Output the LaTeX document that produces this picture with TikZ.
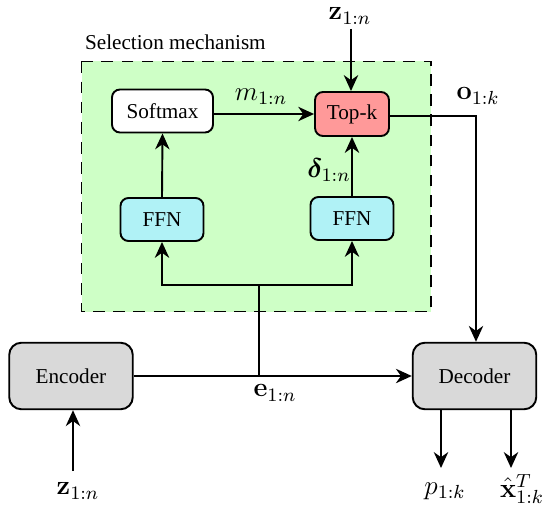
\RequirePackage{fix-cm}
\documentclass[tikz,border=0pt]{standalone}
\usepackage{bm}
\usepackage[no-math]{fontspec}
\setmainfont{Liberation Serif}
\usetikzlibrary{arrows.meta}
\definecolor{selgreen}{RGB}{206,255,198}
\definecolor{topred}{RGB}{255,153,153}
\definecolor{ffncyan}{RGB}{176,242,246}
\definecolor{codgray}{RGB}{217,217,217}
\begin{document}
\begin{tikzpicture}[x=0.472pt,y=-0.472pt,
  font=\fontsize{10}{12}\selectfont,
  line width=0.9pt,
  >={Stealth[length=7.5pt,width=6.8pt,inset=2.4pt]},
  smallbox/.style={draw,rounded corners=3.8pt,minimum height=20.3pt,inner sep=2pt},
  bigbox/.style={draw,fill=codgray,rounded corners=5.7pt,minimum width=58.3pt,minimum height=31.4pt},
  lbl/.style={inner sep=1pt,font=\fontsize{12.8}{15}\selectfont}]
\useasboundingbox (0,0) rectangle (545,512);
% selection mechanism area
\path[fill=selgreen,draw=black,dash pattern=on 5.5pt off 4pt] (81.5,61.5) rectangle (431,311.5);
\node[inner sep=1pt,anchor=west] (sellbl) at (82,42) {Selection mechanism};
% nodes
\node[smallbox,fill=white,minimum width=47.7pt] (soft) at (162.5,111) {Softmax};
\node[smallbox,fill=topred,minimum width=34.9pt,minimum height=20.8pt] (topk) at (352,114) {Top-k};
\node[smallbox,fill=ffncyan,minimum width=39.2pt] (ffnl) at (162,219.5) {FFN};
\node[smallbox,fill=ffncyan,minimum width=39.2pt] (ffnr) at (352,218.5) {FFN};
\node[bigbox] (enc) at (71,376) {Encoder};
\node[bigbox] (dec) at (474.5,376) {Decoder};
% labels
\node[lbl] (ztop) at (350,16) {$\mathbf{z}_{1:n}$};
\node[lbl] (mlbl) at (261,97) {$m_{1:n}$};
\node[lbl] (dlbl) at (329,170) {$\bm{\delta}_{1:n}$};
\node[lbl] (olbl) at (478,96) {$\mathbf{o}_{1:k}$};
\node[lbl] (elbl) at (275,393) {$\mathbf{e}_{1:n}$};
\node[lbl] (zbot) at (78,491) {$\mathbf{z}_{1:n}$};
\node[lbl] (plbl) at (445,491) {$p_{1:k}$};
\node[lbl] (xlbl) at (522,489) {$\hat{\mathbf{x}}^{T}_{1:k}$};
% coordinates
\coordinate (ztopstart) at (351,29);
\coordinate (zbotstart) at (73,471);
\coordinate (split) at (259,285);
\coordinate (encline) at (259,376);
\coordinate (ocorner) at (476,116);
\coordinate (pend) at (441,468);
\coordinate (xend) at (511,468);
% connectors
\draw[->] (ztopstart) -- (ztopstart |- topk.north);
\draw[->] (soft.east |- topk.west) -- (topk.west);
\draw[->] (ffnl.north) -- (soft.south);
\draw[->] (ffnr.north) -- (topk.south);
\draw[->] (split) -| (ffnl.south);
\draw[->] (split) -| (ffnr.south);
\draw (split) -- (encline);
\draw[->] (enc.east) -- (dec.west);
\draw[->] (topk.east |- ocorner) -- (ocorner) -- (ocorner |- dec.north);
\draw[->] (zbotstart) -- (zbotstart |- enc.south);
\draw[->] (pend |- dec.south) -- (pend);
\draw[->] (xend |- dec.south) -- (xend);
\end{tikzpicture}
\end{document}
